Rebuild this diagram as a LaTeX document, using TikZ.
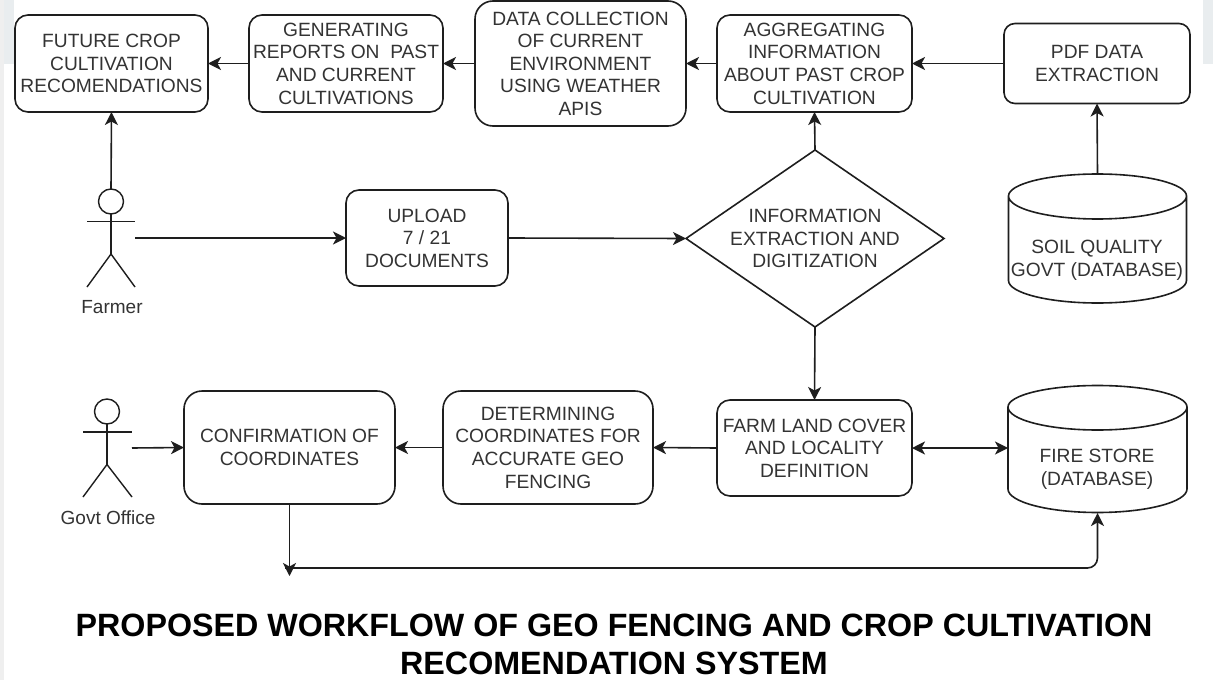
\documentclass[tikz,border=0pt]{standalone}
\usepackage{fontspec}
\setmainfont{Liberation Sans}
\usetikzlibrary{arrows.meta,shapes.geometric}
\definecolor{ink}{HTML}{1E1E1E}
\definecolor{txt}{HTML}{333333}
\definecolor{stripe}{HTML}{EFEFEF}
\definecolor{tab}{HTML}{E9EDEF}
\tikzset{
  x=1pt,y=-1pt,
  every node/.style={font=\fontsize{19.2}{22.6}\selectfont,text=txt,align=center,inner sep=0pt,outer sep=0pt,text depth=-2pt},
  box/.style={draw=ink,line width=1.6pt,rounded corners=#1,fill=white},
  box/.default=13pt,
  flow/.style={draw=ink,line width=1.6pt,-{Stealth[length=13pt,width=13pt,inset=3.5pt]}},
  flowboth/.style={draw=ink,line width=1.6pt,{Stealth[length=13pt,width=13pt,inset=3.5pt]}-{Stealth[length=13pt,width=13pt,inset=3.5pt]}},
  limb/.style={draw=ink,line width=1.4pt},
  head/.style={draw=ink,line width=1.4pt,circle,minimum size=25pt},
  cylbody/.style={draw=ink,line width=1.6pt,fill=white},
  actorlabel/.style={font=\fontsize{19}{22}\selectfont},
  titletext/.style={font=\fontsize{32.25}{38}\selectfont\bfseries,text=black}
}
\newcommand{\rnode}[6]{\node[box=#6,minimum width=#4pt,minimum height=#5pt] (#1) at #2 {#3};}
\begin{document}
\begin{tikzpicture}
\useasboundingbox (0,0) rectangle (1213,680);
\fill[white] (0,0) rectangle (1213,680);
\fill[stripe] (0,0) rectangle (4,680);
\fill[tab] (4,0) rectangle (14,64);
\fill[tab] (1203,0) rectangle (1213,64);

% top row
\rnode{future}{(111.5,63.5)}{FUTURE CROP\\CULTIVATION\\RECOMENDATIONS}{193}{97}{13pt}
\rnode{reports}{(346,63.5)}{GENERATING\\REPORTS ON\ \ PAST\\AND CURRENT\\CULTIVATIONS}{194}{97}{13pt}
\rnode{collect}{(580.5,63.5)}{DATA COLLECTION\\OF CURRENT\\ENVIRONMENT\\USING WEATHER\\APIS}{211}{125}{18pt}
\rnode{aggregate}{(814.5,63.5)}{AGGREGATING\\INFORMATION\\ABOUT PAST CROP\\CULTIVATION}{195}{97}{13pt}
\rnode{pdf}{(1097,63.5)}{PDF DATA\\EXTRACTION}{186}{80}{11pt}

% middle row
\rnode{upload}{(427,238)}{UPLOAD\hspace{10pt}\\7 / 21\\DOCUMENTS}{162}{96}{13pt}
\node[diamond,aspect=1.46,draw=ink,line width=1.6pt,minimum width=258pt,minimum height=177pt] (extract) at (815,238.5) {INFORMATION\\EXTRACTION AND\\DIGITIZATION};

% soil database
\node[minimum width=178pt,minimum height=130pt] (soil) at (1097.5,238) {};
\draw[cylbody] (1008.5,196) arc[x radius=89,y radius=23,start angle=180,end angle=0] -- (1186.5,280.5)
  arc[x radius=89,y radius=22.5,start angle=0,end angle=180] -- cycle;
\draw[cylbody,fill=none] (1008.5,196) arc[x radius=89,y radius=22,start angle=180,end angle=360];
\node (soiltext) at (1097,258) {SOIL QUALITY\\GOVT (DATABASE)};

% bottom row
\rnode{confirm}{(289.5,447.5)}{CONFIRMATION OF\\COORDINATES}{211}{113}{18pt}
\rnode{coords}{(548,447.5)}{DETERMINING\\COORDINATES FOR\\ACCURATE GEO\\FENCING}{210}{113}{18pt}
\rnode{land}{(814.5,448)}{FARM LAND COVER\\AND LOCALITY\\DEFINITION}{195}{96}{13pt}

% fire store database
\node[minimum width=179pt,minimum height=130pt] (fire) at (1097.5,448) {};
\draw[cylbody] (1008,407) arc[x radius=89.5,y radius=23,start angle=180,end angle=0] -- (1187,489)
  arc[x radius=89.5,y radius=23.5,start angle=0,end angle=180] -- cycle;
\draw[cylbody,fill=none] (1008,407) arc[x radius=89.5,y radius=21.5,start angle=180,end angle=360];
\node (firetext) at (1097,467.5) {FIRE STORE\\(DATABASE)};

% farmer
\node[head] (farmerhead) at (111,201.5) {};
\coordinate (farmerhip) at (111,254);
\draw[limb] (farmerhead.south) -- (farmerhip);
\draw[limb] (87,221.5) -- (135,221.5);
\draw[limb] (87,287) -- (farmerhip) -- (135,287);
\coordinate (farmerhand) at (135,238);
\node[actorlabel] (farmerlabel) at (112,306.5) {Farmer};

% government office
\node[head] (govhead) at (107,411.5) {};
\coordinate (govhip) at (107,464.5);
\draw[limb] (govhead.south) -- (govhip);
\draw[limb] (83,432) -- (132,432);
\draw[limb] (83,497) -- (govhip) -- (132,497);
\coordinate (govhand) at (132,448);
\node[actorlabel] (govlabel) at (108,517.5) {Govt Office};

% connectors
\draw[flow] (reports.west) -- (future.east);
\draw[flow] (collect.west) -- (reports.east);
\draw[flow] (aggregate.west) -- (collect.east);
\draw[flow] (pdf.west) -- (aggregate.east);
\draw[flow] (soil.north) -- (pdf.south);
\draw[flow] (farmerhead.north) -- (future.south);
\draw[flow] (farmerhand) -- (upload.west);
\draw[flow] (upload.east) -- (extract.west);
\draw[flow] (extract.north) -- (aggregate.south);
\draw[flow] (extract.south) -- (land.north);
\draw[flowboth] (land.east) -- (fire.west);
\draw[flow] (land.west) -- (coords.east);
\draw[flow] (coords.west) -- (confirm.east);
\draw[flow] (govhand) -- (confirm.west);
\coordinate (junction) at (289.5,576);
\coordinate (busstart) at (285,568);
\draw[flow] (confirm.south) -- (junction);
\draw[flow,rounded corners=10pt] (busstart) -- (fire.south |- busstart) -- (fire.south);

% title
\node[titletext] (title) at (614,644) {PROPOSED WORKFLOW OF GEO FENCING AND CROP CULTIVATION\\RECOMENDATION SYSTEM};
\end{tikzpicture}
\end{document}
